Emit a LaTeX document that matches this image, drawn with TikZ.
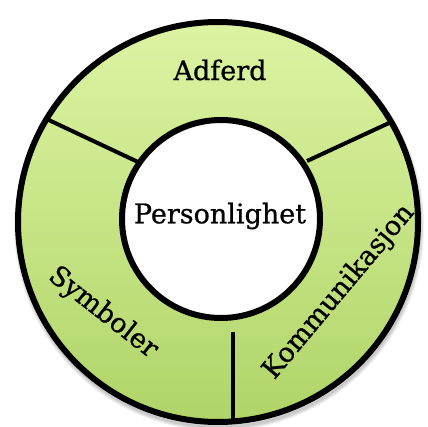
\documentclass[tikz,border=0pt]{standalone}
\usepackage{fontspec}
\setmainfont{DejaVu Serif}
\newfontfamily\ringfont{DejaVu Serif}[FakeBold=0.8]
\usetikzlibrary{calc}
\begin{document}
\begin{tikzpicture}[x=1pt,y=-1pt,
  ringline/.style={line width=6pt},
  divider/.style={line width=4pt},
  label/.style={font=\ringfont\fontsize{27}{32}\selectfont, inner sep=0pt}]
\definecolor{ringtop}{HTML}{DDF4A3}
\definecolor{ringbottom}{HTML}{B0D468}
\useasboundingbox (0,0) rectangle (428,427);
% centres of the two circles
\coordinate (oc) at (218,222);
\coordinate (ic) at (221,219);
% soft shadow under the ring
\foreach \k in {1,...,4}
  \draw[black, opacity=0.06, line width=2*\k pt] ($(oc)+(1,4)$) circle (201);
% green ring, lighter at the top
\shade[top color=ringtop, bottom color=ringbottom, even odd rule]
  (oc) circle (200) (ic) circle (99);
\fill[white] (ic) circle (99);
% the three dividers between the sectors (y grows downwards here)
\coordinate (lo) at ($(oc)+(-149:200)$);
\coordinate (li) at (138,162);
\coordinate (ro) at ($(oc)+(-30:200)$);
\coordinate (ri) at (307,161);
\coordinate (bi) at (233,332);
\coordinate (bo) at (233,424);
\draw[divider] (lo) -- (li);
\draw[divider] (ro) -- (ri);
\draw[divider] (bi) -- (bo);
% outlines
\draw[ringline] (oc) circle (200);
\draw[ringline] (ic) circle (99);
% labels
\node[label] (adferd) at (220,70) {Adferd};
\node[label] (person) at (220,216) {Personlighet};
\node[label, rotate=-38] (symb) at (103,313) {Symboler};
\node[label, rotate=50] (komm) at (339,292) {Kommunikasjon};
\end{tikzpicture}
\end{document}
